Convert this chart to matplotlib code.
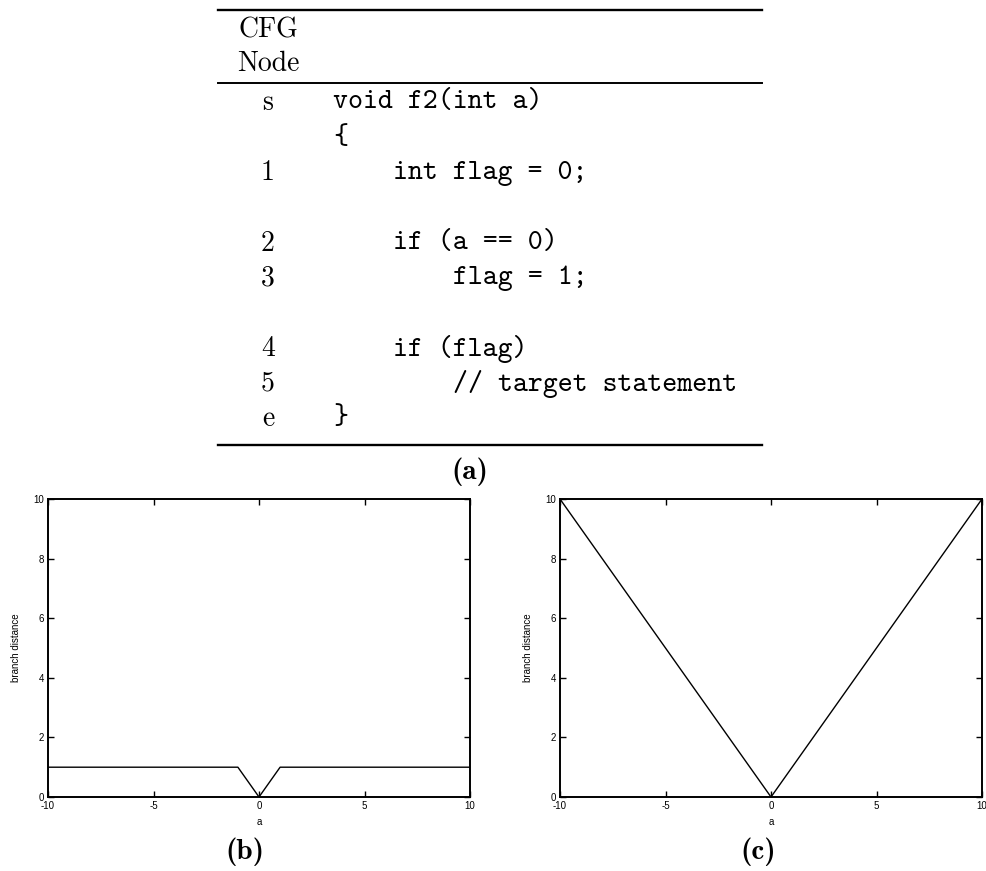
import matplotlib
matplotlib.use("Agg")
import matplotlib.pyplot as plt
from matplotlib.lines import Line2D

W, H = 987, 871

# CFG table rows: node label and source line (None = blank spacer row)
node_labels = ["s", "", "1", None, "2", "3", None, "4", "5", "e"]
code_lines = [
    "void f2(int a)",
    "{",
    "    int flag = 0;",
    None,
    "    if (a == 0)",
    "        flag = 1;",
    None,
    "    if (flag)",
    "        // target statement",
    "}",
]

# branch distance for "if (flag)" as a function of input a
flag_a = [-10, -1, 0, 1, 10]
flag_dist = [1, 1, 0, 1, 1]

# branch distance for "if (a == 0)"
eq_a = [-10, -0.1, 0, 0.1, 10]
eq_dist = [10, 0.1, 0, 0.1, 10]

x_ticks = [-10, -5, 0, 5, 10]
y_ticks = [0, 2, 4, 6, 8, 10]

plt.rcParams["axes.unicode_minus"] = False
fig = plt.figure(figsize=(W / 100, H / 100), dpi=100)


def fx(px):
    return px / W


def fy(py):
    return 1 - py / H


def rule(y, lw):
    fig.add_artist(Line2D([fx(218), fx(762)], [fy(y), fy(y)],
                          color="black", lw=lw, transform=fig.transFigure))


# table (a)
rule(10, 1.7)
rule(83, 1.4)
rule(445, 1.7)
fig.text(fx(268), fy(30), "CFG", family="cmr10", fontsize=20, ha="center", va="center")
fig.text(fx(268), fy(64), "Node", family="cmr10", fontsize=20, ha="center", va="center")

row_y0, row_step = 103, 35.1
for i, (node, line) in enumerate(zip(node_labels, code_lines)):
    y = row_y0 + i * row_step
    if node:
        fig.text(fx(268), fy(y), node, family="cmr10", fontsize=20,
                 ha="center", va="center")
    if line:
        fig.text(fx(333), fy(y), line, family="cmtt10", fontsize=20.5,
                 ha="left", va="center")

fig.text(fx(470), fy(472), "(a)", family="cmb10", fontsize=21, ha="center", va="center")


def branch_plot(rect, xs, ys, caption, cap_x):
    ax = fig.add_axes(rect)
    ax.plot(xs, ys, color="black", lw=1.0)
    ax.set_xlim(-10, 10)
    ax.set_ylim(0, 10)
    ax.set_xticks(x_ticks)
    ax.set_yticks(y_ticks)
    ax.tick_params(direction="in", length=4, width=1, labelsize=7,
                   top=True, right=True, pad=3)
    for lab in ax.get_xticklabels() + ax.get_yticklabels():
        lab.set_family("Liberation Sans")
    for sp in ax.spines.values():
        sp.set_linewidth(1.4)
    ax.set_xlabel("a", fontsize=7, family="Liberation Sans", labelpad=4)
    ax.set_ylabel("branch distance", fontsize=7, family="Liberation Sans", labelpad=9)
    fig.text(fx(cap_x), fy(852), caption, family="cmb10", fontsize=21,
             ha="center", va="center")
    return ax


bottom = (H - 797) / H
height = 298 / H
branch_plot([fx(48), bottom, 422 / W, height], flag_a, flag_dist, "(b)", 245)
branch_plot([fx(560), bottom, 422 / W, height], eq_a, eq_dist, "(c)", 758)

fig.savefig("out.png", dpi=100)
